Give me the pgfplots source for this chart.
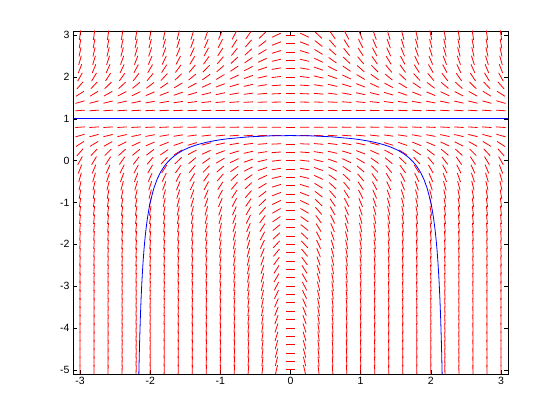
\documentclass[border=0pt]{standalone}
\usepackage{pgfplots}
\usepackage{pgfplotstable}
\pgfplotsset{compat=1.18}
\usepackage{fontspec}
\setmainfont{Liberation Sans}
\pgfplotstableread{
y c1 c2 c3 c4 c5 c6 c7 c8 c9 c10 c11 c12 c13 c14 c15 c16 c17 c18 c19 c20 c21 c22 c23 c24 c25 c26 c27 c28 c29 c30 c31
-5 108 100.8 93.6 86.4 79.2 72 64.8 57.6 50.4 43.2 36 28.8 21.6 14.4 7.2 0 -7.2 -14.4 -21.6 -28.8 -36 -43.2 -50.4 -57.6 -64.8 -72 -79.2 -86.4 -93.6 -100.8 -108
-4.8 100.9 94.2 87.5 80.7 74.0 67.3 60.6 53.8 47.1 40.4 33.6 26.9 20.2 13.5 6.73 0 -6.73 -13.5 -20.2 -26.9 -33.6 -40.4 -47.1 -53.8 -60.6 -67.3 -74.0 -80.7 -87.5 -94.2 -100.9
-4.6 94.1 87.8 81.5 75.3 69.0 62.7 56.4 50.2 43.9 37.6 31.4 25.1 18.8 12.5 6.27 0 -6.27 -12.5 -18.8 -25.1 -31.4 -37.6 -43.9 -50.2 -56.4 -62.7 -69.0 -75.3 -81.5 -87.8 -94.1
-4.4 87.5 81.6 75.8 70.0 64.2 58.3 52.5 46.7 40.8 35.0 29.2 23.3 17.5 11.7 5.83 0 -5.83 -11.7 -17.5 -23.3 -29.2 -35.0 -40.8 -46.7 -52.5 -58.3 -64.2 -70.0 -75.8 -81.6 -87.5
-4.2 81.1 75.7 70.3 64.9 59.5 54.1 48.7 43.3 37.9 32.4 27.0 21.6 16.2 10.8 5.41 0 -5.41 -10.8 -16.2 -21.6 -27.0 -32.4 -37.9 -43.3 -48.7 -54.1 -59.5 -64.9 -70.3 -75.7 -81.1
-4 75 70 65 60 55 50 45 40 35 30 25 20 15 10 5 0 -5 -10 -15 -20 -25 -30 -35 -40 -45 -50 -55 -60 -65 -70 -75
-3.8 69.1 64.5 59.9 55.3 50.7 46.1 41.5 36.9 32.3 27.6 23.0 18.4 13.8 9.22 4.61 0 -4.61 -9.22 -13.8 -18.4 -23.0 -27.6 -32.3 -36.9 -41.5 -46.1 -50.7 -55.3 -59.9 -64.5 -69.1
-3.6 63.5 59.2 55.0 50.8 46.6 42.3 38.1 33.9 29.6 25.4 21.2 16.9 12.7 8.46 4.23 0 -4.23 -8.46 -12.7 -16.9 -21.2 -25.4 -29.6 -33.9 -38.1 -42.3 -46.6 -50.8 -55.0 -59.2 -63.5
-3.4 58.1 54.2 50.3 46.5 42.6 38.7 34.8 31.0 27.1 23.2 19.4 15.5 11.6 7.74 3.87 0 -3.87 -7.74 -11.6 -15.5 -19.4 -23.2 -27.1 -31.0 -34.8 -38.7 -42.6 -46.5 -50.3 -54.2 -58.1
-3.2 52.9 49.4 45.9 42.3 38.8 35.3 31.8 28.2 24.7 21.2 17.6 14.1 10.6 7.06 3.53 0 -3.53 -7.06 -10.6 -14.1 -17.6 -21.2 -24.7 -28.2 -31.8 -35.3 -38.8 -42.3 -45.9 -49.4 -52.9
-3 48 44.8 41.6 38.4 35.2 32 28.8 25.6 22.4 19.2 16 12.8 9.6 6.4 3.2 0 -3.2 -6.4 -9.6 -12.8 -16 -19.2 -22.4 -25.6 -28.8 -32 -35.2 -38.4 -41.6 -44.8 -48
-2.8 43.3 40.4 37.5 34.7 31.8 28.9 26.0 23.1 20.2 17.3 14.4 11.6 8.66 5.78 2.89 0 -2.89 -5.78 -8.66 -11.6 -14.4 -17.3 -20.2 -23.1 -26.0 -28.9 -31.8 -34.7 -37.5 -40.4 -43.3
-2.6 38.9 36.3 33.7 31.1 28.5 25.9 23.3 20.7 18.1 15.6 13.0 10.4 7.78 5.18 2.59 0 -2.59 -5.18 -7.78 -10.4 -13.0 -15.6 -18.1 -20.7 -23.3 -25.9 -28.5 -31.1 -33.7 -36.3 -38.9
-2.4 34.7 32.4 30.1 27.7 25.4 23.1 20.8 18.5 16.2 13.9 11.6 9.25 6.94 4.62 2.31 0 -2.31 -4.62 -6.94 -9.25 -11.6 -13.9 -16.2 -18.5 -20.8 -23.1 -25.4 -27.7 -30.1 -32.4 -34.7
-2.2 30.7 28.7 26.6 24.6 22.5 20.5 18.4 16.4 14.3 12.3 10.2 8.19 6.14 4.10 2.05 0 -2.05 -4.10 -6.14 -8.19 -10.2 -12.3 -14.3 -16.4 -18.4 -20.5 -22.5 -24.6 -26.6 -28.7 -30.7
-2 27 25.2 23.4 21.6 19.8 18 16.2 14.4 12.6 10.8 9 7.2 5.4 3.6 1.8 0 -1.8 -3.6 -5.4 -7.2 -9 -10.8 -12.6 -14.4 -16.2 -18 -19.8 -21.6 -23.4 -25.2 -27
-1.8 23.5 22.0 20.4 18.8 17.2 15.7 14.1 12.5 11.0 9.41 7.84 6.27 4.70 3.14 1.57 0 -1.57 -3.14 -4.70 -6.27 -7.84 -9.41 -11.0 -12.5 -14.1 -15.7 -17.2 -18.8 -20.4 -22.0 -23.5
-1.6 20.3 18.9 17.6 16.2 14.9 13.5 12.2 10.8 9.46 8.11 6.76 5.41 4.06 2.70 1.35 0 -1.35 -2.70 -4.06 -5.41 -6.76 -8.11 -9.46 -10.8 -12.2 -13.5 -14.9 -16.2 -17.6 -18.9 -20.3
-1.4 17.3 16.1 15.0 13.8 12.7 11.5 10.4 9.22 8.06 6.91 5.76 4.61 3.46 2.30 1.15 0 -1.15 -2.30 -3.46 -4.61 -5.76 -6.91 -8.06 -9.22 -10.4 -11.5 -12.7 -13.8 -15.0 -16.1 -17.3
-1.2 14.5 13.6 12.6 11.6 10.6 9.68 8.71 7.74 6.78 5.81 4.84 3.87 2.90 1.94 0.968 0 -0.968 -1.94 -2.90 -3.87 -4.84 -5.81 -6.78 -7.74 -8.71 -9.68 -10.6 -11.6 -12.6 -13.6 -14.5
-1 12 11.2 10.4 9.6 8.8 8 7.2 6.4 5.6 4.8 4 3.2 2.4 1.6 0.8 0 -0.8 -1.6 -2.4 -3.2 -4 -4.8 -5.6 -6.4 -7.2 -8 -8.8 -9.6 -10.4 -11.2 -12
-0.8 9.72 9.07 8.42 7.78 7.13 6.48 5.83 5.18 4.54 3.89 3.24 2.59 1.94 1.30 0.648 0 -0.648 -1.30 -1.94 -2.59 -3.24 -3.89 -4.54 -5.18 -5.83 -6.48 -7.13 -7.78 -8.42 -9.07 -9.72
-0.6 7.68 7.17 6.66 6.14 5.63 5.12 4.61 4.10 3.58 3.07 2.56 2.05 1.54 1.02 0.512 0 -0.512 -1.02 -1.54 -2.05 -2.56 -3.07 -3.58 -4.10 -4.61 -5.12 -5.63 -6.14 -6.66 -7.17 -7.68
-0.4 5.88 5.49 5.10 4.70 4.31 3.92 3.53 3.14 2.74 2.35 1.96 1.57 1.18 0.784 0.392 0 -0.392 -0.784 -1.18 -1.57 -1.96 -2.35 -2.74 -3.14 -3.53 -3.92 -4.31 -4.70 -5.10 -5.49 -5.88
-0.2 4.32 4.03 3.74 3.46 3.17 2.88 2.59 2.30 2.02 1.73 1.44 1.15 0.864 0.576 0.288 0 -0.288 -0.576 -0.864 -1.15 -1.44 -1.73 -2.02 -2.30 -2.59 -2.88 -3.17 -3.46 -3.74 -4.03 -4.32
0 3 2.8 2.6 2.4 2.2 2 1.8 1.6 1.4 1.2 1 0.8 0.6 0.4 0.2 0 -0.2 -0.4 -0.6 -0.8 -1 -1.2 -1.4 -1.6 -1.8 -2 -2.2 -2.4 -2.6 -2.8 -3
0.2 1.92 1.79 1.66 1.54 1.41 1.28 1.15 1.02 0.896 0.768 0.64 0.512 0.384 0.256 0.128 0 -0.128 -0.256 -0.384 -0.512 -0.64 -0.768 -0.896 -1.02 -1.15 -1.28 -1.41 -1.54 -1.66 -1.79 -1.92
0.4 1.08 1.01 0.936 0.864 0.792 0.72 0.648 0.576 0.504 0.432 0.36 0.288 0.216 0.144 0.072 0 -0.072 -0.144 -0.216 -0.288 -0.36 -0.432 -0.504 -0.576 -0.648 -0.72 -0.792 -0.864 -0.936 -1.01 -1.08
0.6 0.48 0.448 0.416 0.384 0.352 0.32 0.288 0.256 0.224 0.192 0.16 0.128 0.096 0.064 0.032 0 -0.032 -0.064 -0.096 -0.128 -0.16 -0.192 -0.224 -0.256 -0.288 -0.32 -0.352 -0.384 -0.416 -0.448 -0.48
0.8 0.12 0.112 0.104 0.096 0.088 0.08 0.072 0.064 0.056 0.048 0.04 0.032 0.024 0.016 0.008 0 -0.008 -0.016 -0.024 -0.032 -0.04 -0.048 -0.056 -0.064 -0.072 -0.08 -0.088 -0.096 -0.104 -0.112 -0.12
1 0 0 0 0 0 0 0 0 0 0 0 0 0 0 0 0 0 0 0 0 0 0 0 0 0 0 0 0 0 0 0
1.2 0.12 0.112 0.104 0.096 0.088 0.08 0.072 0.064 0.056 0.048 0.04 0.032 0.024 0.016 0.008 0 -0.008 -0.016 -0.024 -0.032 -0.04 -0.048 -0.056 -0.064 -0.072 -0.08 -0.088 -0.096 -0.104 -0.112 -0.12
1.4 0.48 0.448 0.416 0.384 0.352 0.32 0.288 0.256 0.224 0.192 0.16 0.128 0.096 0.064 0.032 0 -0.032 -0.064 -0.096 -0.128 -0.16 -0.192 -0.224 -0.256 -0.288 -0.32 -0.352 -0.384 -0.416 -0.448 -0.48
1.6 1.08 1.01 0.936 0.864 0.792 0.72 0.648 0.576 0.504 0.432 0.36 0.288 0.216 0.144 0.072 0 -0.072 -0.144 -0.216 -0.288 -0.36 -0.432 -0.504 -0.576 -0.648 -0.72 -0.792 -0.864 -0.936 -1.01 -1.08
1.8 1.92 1.79 1.66 1.54 1.41 1.28 1.15 1.02 0.896 0.768 0.64 0.512 0.384 0.256 0.128 0 -0.128 -0.256 -0.384 -0.512 -0.64 -0.768 -0.896 -1.02 -1.15 -1.28 -1.41 -1.54 -1.66 -1.79 -1.92
2 3 2.8 2.6 2.4 2.2 2 1.8 1.6 1.4 1.2 1 0.8 0.6 0.4 0.2 0 -0.2 -0.4 -0.6 -0.8 -1 -1.2 -1.4 -1.6 -1.8 -2 -2.2 -2.4 -2.6 -2.8 -3
2.2 4.32 4.03 3.74 3.46 3.17 2.88 2.59 2.30 2.02 1.73 1.44 1.15 0.864 0.576 0.288 0 -0.288 -0.576 -0.864 -1.15 -1.44 -1.73 -2.02 -2.30 -2.59 -2.88 -3.17 -3.46 -3.74 -4.03 -4.32
2.4 5.88 5.49 5.10 4.70 4.31 3.92 3.53 3.14 2.74 2.35 1.96 1.57 1.18 0.784 0.392 0 -0.392 -0.784 -1.18 -1.57 -1.96 -2.35 -2.74 -3.14 -3.53 -3.92 -4.31 -4.70 -5.10 -5.49 -5.88
2.6 7.68 7.17 6.66 6.14 5.63 5.12 4.61 4.10 3.58 3.07 2.56 2.05 1.54 1.02 0.512 0 -0.512 -1.02 -1.54 -2.05 -2.56 -3.07 -3.58 -4.10 -4.61 -5.12 -5.63 -6.14 -6.66 -7.17 -7.68
2.8 9.72 9.07 8.42 7.78 7.13 6.48 5.83 5.18 4.54 3.89 3.24 2.59 1.94 1.30 0.648 0 -0.648 -1.30 -1.94 -2.59 -3.24 -3.89 -4.54 -5.18 -5.83 -6.48 -7.13 -7.78 -8.42 -9.07 -9.72
3 12 11.2 10.4 9.6 8.8 8 7.2 6.4 5.6 4.8 4 3.2 2.4 1.6 0.8 0 -0.8 -1.6 -2.4 -3.2 -4 -4.8 -5.6 -6.4 -7.2 -8 -8.8 -9.6 -10.4 -11.2 -12
}\slopes
\begin{document}
\begin{tikzpicture}
\begin{axis}[
  scale only axis,
  width=435pt, height=343pt,
  xmin=-3.1, xmax=3.1, ymin=-5.1, ymax=3.1,
  xtick={-3,-2,-1,0,1,2,3},
  ytick={-5,-4,-3,-2,-1,0,1,2,3},
  tick align=inside,
  major tick length=4pt,
  every tick/.style={black, line width=0.6pt},
  axis line style={line width=0.7pt},
  tick label style={font=\fontsize{10.5}{12}\selectfont},
  /pgf/number format/assume math mode=true,
  clip=true,
]
\pgfplotsinvokeforeach{1,...,31}{
  \addplot[color=red, line width=0.8pt, forget plot,
    quiver={u={0.1354*cos(atan(0.5962*\thisrow{c#1}))},
            v={0.2271*sin(atan(0.5962*\thisrow{c#1}))}}]
  table[x expr={-3.2+0.2*#1-0.0677*cos(atan(0.5962*\thisrow{c#1}))},
        y expr={\thisrow{y}-0.11356*sin(atan(0.5962*\thisrow{c#1}))}] {\slopes};
}
\addplot[color=blue, line width=0.8pt] coordinates {(-3.1,1) (3.1,1)};
\addplot[color=blue, line width=0.8pt] coordinates {
(-2.162,-5.139) (-2.16,-4.981) (-2.155,-4.618) (-2.15,-4.298) (-2.14,-3.757) (-2.13,-3.319)
(-2.12,-2.956) (-2.11,-2.650) (-2.1,-2.390) (-2.09,-2.165) (-2.08,-1.969) (-2.07,-1.797)
(-2.06,-1.644) (-2.04,-1.386) (-2.02,-1.175) (-2.0,-1) (-1.95,-0.670) (-1.9,-0.439)
(-1.85,-0.268) (-1.8,-0.136) (-1.75,-0.032) (-1.7,0.052) (-1.65,0.122) (-1.6,0.180)
(-1.55,0.230) (-1.5,0.273) (-1.45,0.310) (-1.4,0.342) (-1.35,0.371) (-1.3,0.396)
(-1.2,0.438) (-1.1,0.472) (-1.0,0.5) (-0.9,0.523) (-0.6,0.569) (-0.3,0.593) (0,0.6)
(0.3,0.593) (0.6,0.569) (0.9,0.523) (1.0,0.5) (1.1,0.472) (1.2,0.438) (1.3,0.396)
(1.35,0.371) (1.4,0.342) (1.45,0.310) (1.5,0.273) (1.55,0.230) (1.6,0.180) (1.65,0.122)
(1.7,0.052) (1.75,-0.032) (1.8,-0.136) (1.85,-0.268) (1.9,-0.439) (1.95,-0.670) (2.0,-1)
(2.02,-1.175) (2.04,-1.386) (2.06,-1.644) (2.07,-1.797) (2.08,-1.969) (2.09,-2.165)
(2.1,-2.390) (2.11,-2.650) (2.12,-2.956) (2.13,-3.319) (2.14,-3.757) (2.15,-4.298)
(2.155,-4.618) (2.16,-4.981) (2.162,-5.139)
};
\end{axis}
\pgfresetboundingbox
\path (current axis.south west) ++(-73pt,-46pt) rectangle ++(560pt,420pt);
\end{tikzpicture}
\end{document}
